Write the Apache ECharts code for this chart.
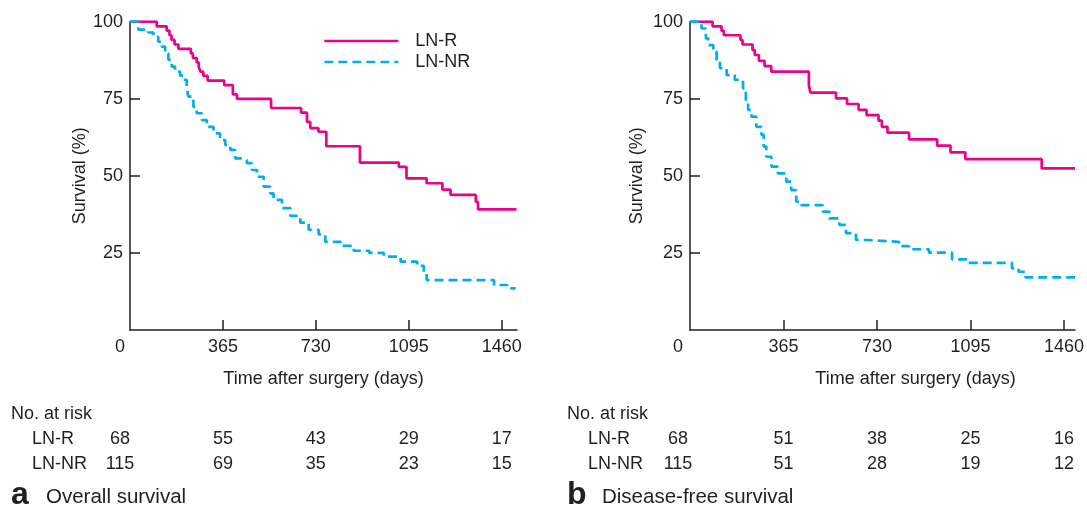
<!DOCTYPE html>
<html>
<head>
<meta charset="utf-8">
<script src="https://cdn.jsdelivr.net/npm/echarts@6/dist/echarts.min.js"></script>
<style>
  html, body { margin: 0; padding: 0; background: #fff; }
  #main { width: 1087px; height: 510px; }
</style>
</head>
<body>
<div id="main"></div>
<script>
// tick labels
const timeTicks = [0, 365, 730, 1095, 1460];
const survTicks = [25, 50, 75, 100];
const groupNames = ['LN-R', 'LN-NR'];
const panelLetters = ['a', 'b'];
const panelTitles = ['Overall survival', 'Disease-free survival'];

// Kaplan-Meier curves: [day, survival %]
const osR = [
  [0, 100], [105, 98.5], [144, 97.1], [155, 95.6], [163, 94.1], [175, 92.6], [190, 91.2],
  [239, 89.7], [247, 88.2], [262, 86.8], [270, 85.3], [277, 83.8], [288, 82.4], [305, 80.9],
  [370, 79.4], [404, 76.4], [420, 75.0], [554, 72.0], [672, 70.5], [695, 67.5], [708, 65.5],
  [740, 64.3], [771, 59.6], [903, 54.3], [1056, 52.9], [1086, 49.2], [1165, 47.6],
  [1227, 45.5], [1259, 43.8], [1358, 41.6], [1367, 39.1], [1518, 39.1]
];
const osNR = [
  [0, 100], [33, 97.4], [72, 96.5], [92, 95.1], [111, 93.5], [125, 91.9], [138, 89.7],
  [151, 87.6], [164, 85.4], [177, 83.8], [197, 82.5], [210, 81.1], [223, 78.4], [229, 75.7],
  [249, 72.4], [262, 70.3], [282, 68.1], [302, 65.9], [328, 63.8], [354, 61.6], [374, 60.0],
  [394, 58.4], [413, 55.7], [440, 55.1], [459, 54.1], [479, 51.9], [499, 49.7], [525, 46.5],
  [551, 44.3], [564, 42.2], [597, 39.5], [630, 37.0], [669, 34.8], [702, 32.5], [741, 31.0],
  [767, 28.6], [827, 27.3], [879, 25.7], [940, 25.0], [997, 23.8], [1063, 22.2], [1128, 20.8],
  [1154, 18.4], [1165, 16.2], [1430, 14.6], [1482, 13.5], [1515, 13.5]
];
const dfsR = [
  [0, 100], [88, 98.5], [123, 97.1], [132, 95.6], [197, 94.1], [205, 92.6], [244, 90.8],
  [253, 89.2], [269, 87.3], [291, 85.6], [317, 83.8], [464, 79.4], [470, 77.0], [570, 75.1],
  [613, 73.3], [658, 71.4], [689, 69.7], [736, 67.9], [749, 65.9], [771, 64.0], [855, 61.8],
  [965, 59.8], [1017, 57.6], [1075, 55.4], [1373, 52.4], [1503, 52.4]
];
const dfsNR = [
  [0, 100], [45, 97.8], [62, 94.6], [71, 92.4], [91, 90.3], [104, 87.6], [117, 84.9],
  [143, 82.7], [175, 81.1], [207, 78.4], [218, 74.6], [227, 71.4], [240, 69.2], [259, 65.9],
  [279, 63.3], [288, 59.5], [298, 56.2], [318, 53.0], [343, 50.8], [376, 48.1], [395, 45.4],
  [415, 41.6], [434, 40.5], [518, 38.4], [544, 36.2], [583, 34.1], [609, 31.4], [648, 29.2],
  [693, 28.6], [816, 27.2], [855, 26.2], [933, 25.1], [1023, 22.9], [1088, 21.8],
  [1257, 20.0], [1283, 18.9], [1309, 17.1], [1503, 17.1]
];

// numbers at risk, one per time tick
const riskOsR = [68, 55, 43, 29, 17];
const riskOsNR = [115, 69, 35, 23, 15];
const riskDfsR = [68, 51, 38, 25, 16];
const riskDfsNR = [115, 51, 28, 19, 12];

const INK = '#231F20';
const PINK = '#EC008C';
const CYAN = '#00AEEF';
const FONT = '"Liberation Sans", Arial, Helvetica, sans-serif';

let chart = echarts.init(document.getElementById('main'));

function xAxisFor(idx, max, zeroPad, nameShift) {
  return {
    type: 'value',
    gridIndex: idx,
    min: 0,
    max: max,
    name: 'Time after surgery (days)',
    nameLocation: 'middle',
    nameGap: 40,
    nameTextStyle: { color: INK, fontSize: 18, fontFamily: FONT, padding: [0, 0, 0, nameShift] },
    splitLine: { show: false },
    axisLine: { lineStyle: { color: INK, width: 1.5 } },
    axisTick: { inside: true, length: 10, customValues: timeTicks.slice(1), lineStyle: { color: INK, width: 1.5 } },
    axisLabel: {
      customValues: timeTicks,
      margin: 8,
      color: INK,
      fontSize: 18,
      fontFamily: FONT,
      // the "0" sits a little left of the corner
      formatter: v => v === 0 ? '{o|0}' : String(v),
      rich: { o: { color: INK, fontSize: 18, fontFamily: FONT, padding: [0, zeroPad, 0, 0] } }
    }
  };
}

function yAxisFor(idx, gap) {
  return {
    type: 'value',
    gridIndex: idx,
    min: 0,
    max: 100,
    interval: 25,
    name: 'Survival (%)',
    nameLocation: 'middle',
    nameGap: gap,
    nameTextStyle: { color: INK, fontSize: 18, fontFamily: FONT },
    splitLine: { show: false },
    axisLine: { show: true, lineStyle: { color: INK, width: 1.5 } },
    axisTick: { show: true, inside: true, length: 10, customValues: survTicks, lineStyle: { color: INK, width: 1.5 } },
    axisLabel: { customValues: survTicks, margin: 7, color: INK, fontSize: 18, fontFamily: FONT }
  };
}

function curve(name, data, idx, color, dashed) {
  return {
    name: name,
    type: 'line',
    xAxisIndex: idx,
    yAxisIndex: idx,
    step: 'end',
    symbol: 'none',
    showSymbol: false,
    lineStyle: { color: color, width: 2.7, type: dashed ? [9, 5] : 'solid', cap: 'butt' },
    itemStyle: { color: color },
    data: data
  };
}

chart.setOption({
  animation: false,
  backgroundColor: '#fff',
  grid: [
    { left: 130, top: 21.7, width: 387, height: 308.3 },
    { left: 690, top: 21.7, width: 387, height: 308.3 }
  ],
  legend: {
    orient: 'vertical',
    left: 323,
    top: 30.5,
    padding: 0,
    itemWidth: 74,
    itemHeight: 14,
    itemGap: 0,
    data: groupNames,
    itemStyle: { opacity: 0 },   // line only, no marker dot
    lineStyle: { width: 2.7 },
    textStyle: { color: INK, fontSize: 18, fontFamily: FONT, lineHeight: 21, padding: [0, 0, 0, 12] }
  },
  xAxis: [xAxisFor(0, 1520, 20, 0), xAxisFor(1, 1503, 24, 66)],
  yAxis: [yAxisFor(0, 40), yAxisFor(1, 44)],
  series: [
    curve(groupNames[0], osR, 0, PINK, false),
    curve(groupNames[1], osNR, 0, CYAN, true),
    curve(groupNames[0], dfsR, 1, PINK, false),
    curve(groupNames[1], dfsNR, 1, CYAN, true)
  ]
});

// risk table + panel captions under each chart
function txt(s, x, y, opts) {
  return {
    type: 'text',
    silent: true,
    style: Object.assign({
      text: s, x: x, y: y, fill: INK, fontSize: 18, fontFamily: FONT,
      align: 'left', verticalAlign: 'middle'
    }, opts || {})
  };
}

let extra = [];
const tables = [[riskOsR, riskOsNR], [riskDfsR, riskDfsNR]];
const panelLeft = [11, 567];
const zeroShift = [-10, -12];
tables.forEach((rows, k) => {
  const x0 = panelLeft[k];
  extra.push(txt('No. at risk', x0, 414));
  rows.forEach((vals, r) => {
    const y = 439 + r * 25;
    extra.push(txt(groupNames[r], x0 + 21, y));
    vals.forEach((v, c) => {
      let px = chart.convertToPixel({ xAxisIndex: k }, timeTicks[c]);
      if (c === 0) px += zeroShift[k];
      extra.push(txt(String(v), px, y, { align: 'center' }));
    });
  });
  extra.push(txt(panelLetters[k], x0, 495, { fontSize: 32, fontWeight: 'bold' }));
  extra.push(txt(panelTitles[k], x0 + 35, 497, { fontSize: 20.5 }));
});
chart.setOption({ graphic: extra });

window.addEventListener('resize', () => {
  chart.resize();
});
</script>
</body>
</html>
